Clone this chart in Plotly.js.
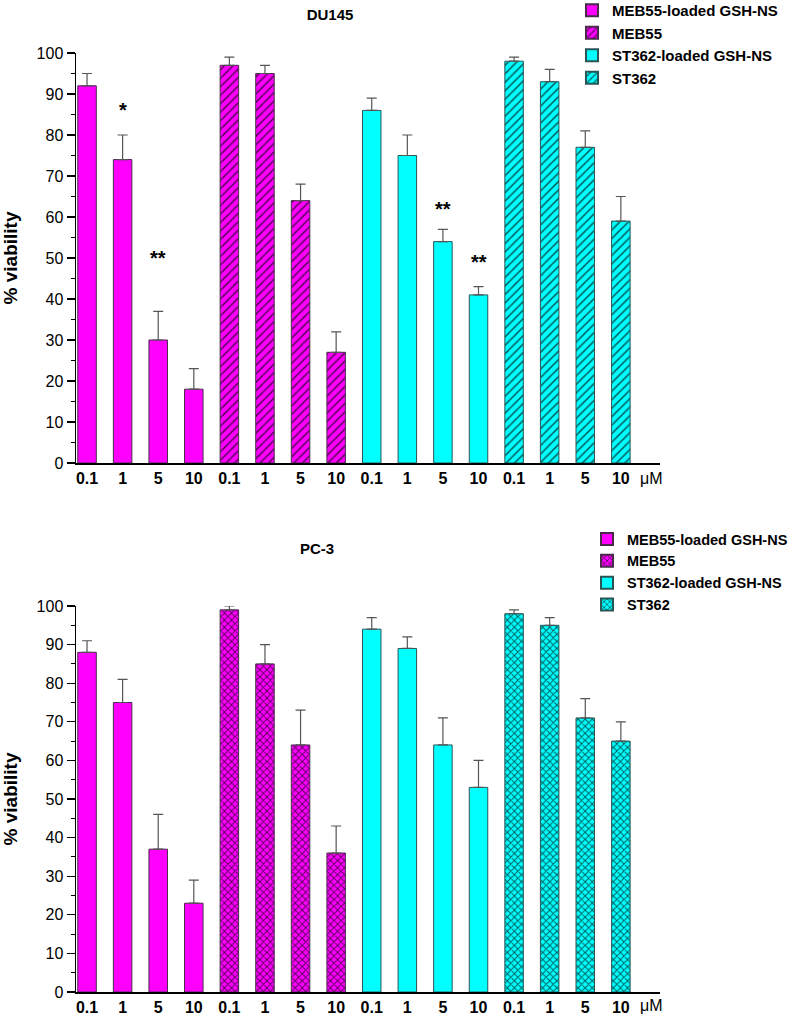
<!DOCTYPE html>
<html><head><meta charset="utf-8">
<script src="https://cdn.plot.ly/plotly-3.0.1.min.js"></script>
<style>body{margin:0;background:#fff}#c{width:800px;height:1016px}</style>
</head><body><div id="c"></div>
<script>
const concentrations = ['0.1','1','5','10'];
const seriesNames = ['MEB55-loaded GSH-NS','MEB55','ST362-loaded GSH-NS','ST362'];

// DU145
const du_meb55NS = [92, 74, 30, 18];
const du_meb55NS_err = [3, 6, 7, 5];
const du_meb55 = [97, 95, 64, 27];
const du_meb55_err = [2, 2, 4, 5];
const du_st362NS = [86, 75, 54, 41];
const du_st362NS_err = [3, 5, 3, 2];
const du_st362 = [98, 93, 77, 59];
const du_st362_err = [1, 3, 4, 6];

// PC-3
const pc_meb55NS = [88, 75, 37, 23];
const pc_meb55NS_err = [3, 6, 9, 6];
const pc_meb55 = [99, 85, 64, 36];
const pc_meb55_err = [1, 5, 9, 7];
const pc_st362NS = [94, 89, 64, 53];
const pc_st362NS_err = [3, 3, 7, 7];
const pc_st362 = [98, 95, 71, 65];
const pc_st362_err = [1, 2, 5, 5];

// significance marks (DU145): [series index, concentration index, label, y]
const duStars = [[0,1,'*',86],[0,2,'**',50],[2,2,'**',62],[2,3,'**',49]];

const MAG='#ff00ff', CYA='#00ffff';
const styles = [
  {color:MAG, line:'#4a2a4a', shape:'', fg:'#600060'},
  {color:MAG, line:'#4a2a4a', shape:'/', fg:'#5a005a'},
  {color:CYA, line:'#2a5555', shape:'', fg:'#005555'},
  {color:CYA, line:'#2a5555', shape:'/', fg:'#005a5a'}
];

function makeTraces(vals, errs, xa, ya, legendName, patShape){
  return vals.map((v,s)=>{
    const st = styles[s];
    const pat = st.shape ? {shape: patShape, fgcolor: st.fg, bgcolor: st.color, size: patShape==='x'?5:6, solidity: patShape==='x'?0.35:0.25, fillmode:'replace'} : {shape:''};
    return {
      type:'bar', name: seriesNames[s],
      x: concentrations.map((c,i)=>s*4+i),
      y: v, width:0.52,
      xaxis: xa, yaxis: ya, legend: legendName,
      marker:{color: st.color, line:{color: st.line, width:1}, pattern: pat},
      error_y:{type:'data', symmetric:false, array: errs[s], arrayminus: v.map(()=>0), color:'#555', thickness:1.2, width:5},
      hoverinfo:'y'
    };
  });
}

const traces = [
  ...makeTraces([du_meb55NS,du_meb55,du_st362NS,du_st362],[du_meb55NS_err,du_meb55_err,du_st362NS_err,du_st362_err],'x','y','legend','/'),
  ...makeTraces([pc_meb55NS,pc_meb55,pc_st362NS,pc_st362],[pc_meb55NS_err,pc_meb55_err,pc_st362NS_err,pc_st362_err],'x2','y2','legend2','x')
];

const tickvals = [], ticktext = [];
for(let s=0;s<4;s++) concentrations.forEach((c,i)=>{tickvals.push(s*4+i); ticktext.push(c);});

const xaxisBase = {
  range:[-0.31,16.1], tickmode:'array', tickvals: tickvals, ticktext: ticktext,
  showline:true, linecolor:'#000', linewidth:1.5, ticks:'', showgrid:false, zeroline:false,
  tickfont:{family:'"Liberation Sans Narrow","Arial Narrow","Liberation Sans",Arial,sans-serif', size:16, color:'#000', weight:'bold'},
  fixedrange:true
};
const yaxisBase = {
  range:[0,100], dtick:10, showline:true, linecolor:'#000', linewidth:1.5, ticks:'outside', ticklen:8, tickwidth:1.2, tickcolor:'#000',
  minor:{dtick:5, ticks:'outside', ticklen:4, tickcolor:'#000', tickwidth:1},
  showgrid:false, zeroline:false,
  tickfont:{family:'"Liberation Sans",Arial,sans-serif', size:16, color:'#000'},
  title:{text:'% viability', font:{family:'"Liberation Sans",Arial,sans-serif', size:19, color:'#000', weight:'bold'}, standoff:14},
  fixedrange:true
};

const annotations = duStars.map(([s,i,t,y])=>({
  x: s*4+i, y: y, xref:'x', yref:'y', text:t, showarrow:false,
  font:{family:'"Liberation Sans",Arial,sans-serif', size:20, color:'#000', weight:'bold'}
}));
annotations.push(
  {x:15.87, y:0, xref:'x', yref:'y', yshift:-15, text:'μM', showarrow:false, font:{family:'"Liberation Sans Narrow","Liberation Sans",Arial', size:16, color:'#000'}},
  {x:15.87, y:0, xref:'x2', yref:'y2', yshift:-13, text:'μM', showarrow:false, font:{family:'"Liberation Sans Narrow","Liberation Sans",Arial', size:16, color:'#000'}},
  {x:330/800, y:1-548/1016, xref:'paper', yref:'paper', text:'PC-3', showarrow:false, font:{family:'"Liberation Sans",Arial,sans-serif', size:15, color:'#000', weight:'bold'}}
);

const legendBase = {
  font:{family:'"Liberation Sans",Arial,sans-serif', size:15, color:'#000', weight:'bold'},
  bgcolor:'rgba(0,0,0,0)', borderwidth:0, tracegroupgap:0, itemsizing:'constant', itemwidth:30,
  xanchor:'left', yanchor:'top'
};

const layout = {
  width:800, height:1016, paper_bgcolor:'#fff', plot_bgcolor:'#fff',
  margin:{l:76, r:140, t:0, b:0, autoexpand:false},
  showlegend:true, barmode:'overlay', bargap:0,
  title:{text:'DU145', x:330/800, xanchor:'center', y:1-15/1016, yanchor:'middle', font:{family:'"Liberation Sans",Arial,sans-serif', size:15, color:'#000', weight:'bold'}},
  xaxis: Object.assign({}, xaxisBase, {anchor:'y'}),
  yaxis: Object.assign({}, yaxisBase, {domain:[1-463/1016, 1-53/1016], anchor:'x'}),
  xaxis2: Object.assign({}, xaxisBase, {anchor:'y2'}),
  yaxis2: Object.assign({}, yaxisBase, {domain:[1-992/1016, 1-606/1016], anchor:'x2'}),
  legend: Object.assign({}, legendBase, {x:(572-76)/584, y:1.006}),
  legend2: Object.assign({}, legendBase, {x:(587-76)/584, y:1-523/1016, font:{family:'"Liberation Sans",Arial,sans-serif', size:14.5, color:'#000', weight:'bold'}}),
  annotations: annotations
};

Plotly.newPlot('c', traces, layout, {displayModeBar:false, staticPlot:true});
</script></body></html>
